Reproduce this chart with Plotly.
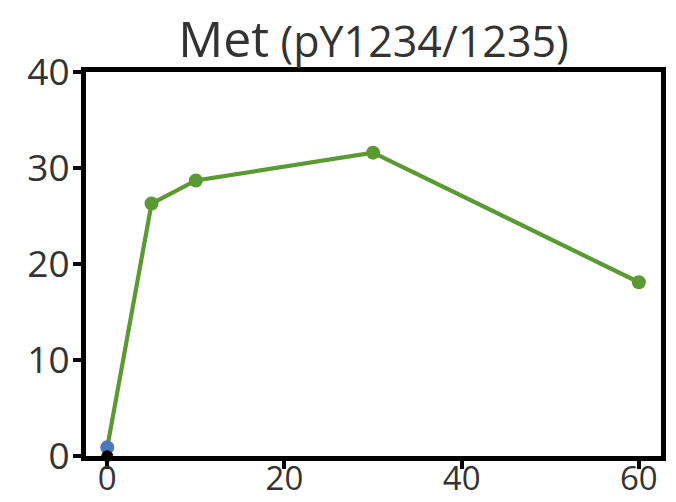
import plotly.graph_objects as go

# Time course of Met phosphorylation (pY1234/1235)
minutes = [0, 5, 10, 30, 60]
signal = [0.9, 26.3, 28.7, 31.6, 18.1]
baseline_x = [0]
baseline_y = [0]

x_ticks = [0, 20, 40, 60]
y_ticks = [0, 10, 20, 30, 40]

green = "#5b9a32"
marker_colors = ["#4a78c0"] + [green] * (len(minutes) - 1)

fig = go.Figure()
fig.add_trace(go.Scatter(
    x=minutes, y=signal, mode="lines+markers",
    line=dict(color=green, width=4.2),
    marker=dict(color=marker_colors, size=14),
    cliponaxis=False, showlegend=False,
))
fig.add_trace(go.Scatter(
    x=baseline_x, y=baseline_y, mode="markers",
    marker=dict(color="black", size=11, line=dict(color="#5a1010", width=1)),
    cliponaxis=False, showlegend=False,
))

axis_common = dict(
    showline=True, linecolor="black", linewidth=5, mirror=True,
    ticks="outside", ticklen=8, tickwidth=4, tickcolor="black",
    showgrid=False, zeroline=False, automargin=False,
)
fig.update_layout(
    width=676, height=502,
    margin=dict(l=86, r=15, t=72, b=46),
    paper_bgcolor="white", plot_bgcolor="white",
    title=dict(
        text=("<span style='font-size:50px'>Met</span>"
              "<span style='font-size:43px'>\u2009\u200a(pY1234/1235)</span>"),
        x=(86 + 661) / 2 / 676, xanchor="center",
        y=0.887, yanchor="bottom",
        font=dict(family="Open Sans", color="#333333"),
    ),
    xaxis=dict(range=[-2.4, 62.5], tickvals=x_ticks,
               ticktext=[str(v) for v in x_ticks], ticklabelstandoff=-19,
               tickfont=dict(family="Open Sans", size=33, color="#333333"),
               **axis_common),
    yaxis=dict(range=[0, 40], tickvals=y_ticks,
               ticktext=[str(v) for v in y_ticks], ticklabelstandoff=-4,
               tickfont=dict(family="Open Sans", size=37, color="#333333"),
               **axis_common),
)

fig.write_html("out.html")
